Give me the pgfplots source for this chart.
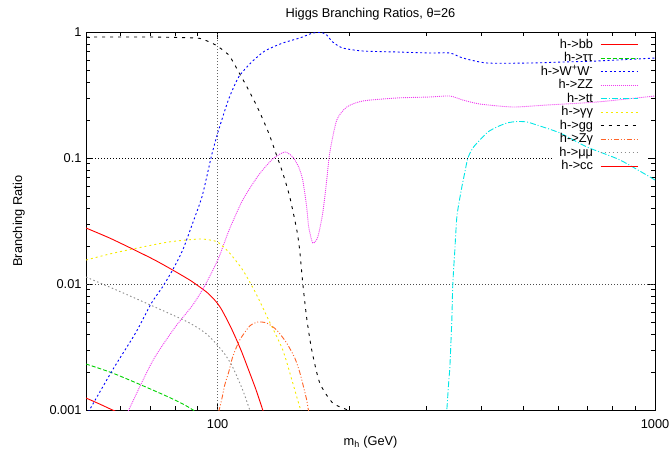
\documentclass[border=0pt]{standalone}
\usepackage{fontspec}
\setmainfont{Liberation Sans}
\usepackage{pgfplots}
\pgfplotsset{compat=1.18}
\definecolor{cbb}{RGB}{255,0,0}
\definecolor{ctau}{RGB}{0,210,0}
\definecolor{cww}{RGB}{0,0,255}
\definecolor{czz}{RGB}{240,60,240}
\definecolor{ctt}{RGB}{0,230,230}
\definecolor{cgam}{RGB}{245,235,0}
\definecolor{cgg}{RGB}{0,0,0}
\definecolor{czg}{RGB}{255,100,40}
\definecolor{cmu}{RGB}{140,140,140}
\begin{document}
\fontsize{12.8}{15}\selectfont
\begin{tikzpicture}
\useasboundingbox (-86pt,-48pt) rectangle (585pt,410pt);
\begin{axis}[
  scale only axis, width=569pt, height=378pt,
  xmode=log, ymode=log,
  xmin=50, xmax=1000, ymin=0.001, ymax=1,
  xtick={100,1000}, xticklabels={100,1000},
  ytick={0.001,0.01,0.1,1}, yticklabels={0.001,0.01,0.1,1},
  minor xtick={60,70,80,90,200,300,400,500,600,700,800,900},
  minor ytick={0.002,0.003,0.004,0.005,0.006,0.007,0.008,0.009,0.02,0.03,0.04,0.05,0.06,0.07,0.08,0.09,0.2,0.3,0.4,0.5,0.6,0.7,0.8,0.9},
  /pgf/number format/assume math mode=true,
  tick align=inside, tick pos=both,
  major tick length=7pt, minor tick length=4pt,
  tick style={black, line width=0.6pt},
  axis line style={black, line width=0.8pt},
  xticklabel style={yshift=-5pt},
  every axis title/.style={at={(0.5,1)},anchor=base,yshift=15pt},
  every axis x label/.style={at={(0.5,0)},anchor=base,yshift=-35pt},
  every axis y label/.style={at={(0,0.5)},xshift=-64pt,rotate=90,anchor=base},
  title={Higgs Branching Ratios, θ=26},
  xlabel={m\textsubscript{h} (GeV)},
  ylabel={Branching Ratio},
  legend style={at={(0.970,1)}, anchor=north east, yshift=-6pt, draw=none, fill=none, inner sep=0pt, outer sep=0pt, row sep=0.5pt, column sep=6pt, nodes={inner sep=1pt, text height=9pt, text depth=2pt}},
  legend cell align=right,
  legend plot pos=right,
  legend image code/.code={\draw[#1] (0pt,0pt) -- (37pt,0pt);},
  every axis plot/.append style={line width=0.9pt, smooth, tension=0.4},
]
% grid
\draw[black!60, dash pattern=on 1pt off 2pt, line width=0.7pt] (axis cs:100,0.001) -- (axis cs:100,1);
\draw[black, dash pattern=on 1pt off 2pt, line width=0.7pt] (axis cs:50,0.1) -- (axis cs:580,0.1);
\draw[black!70, dash pattern=on 1pt off 2pt, line width=0.7pt] (axis cs:50,0.01) -- (axis cs:1000,0.01);

\addplot[cbb, solid] coordinates {
(50,0.02783)(56.6,0.02318)(63.9,0.01896)(71.8,0.0155)(78.9,0.01292)(86.3,0.01076)
(91.0,0.00947)(94.9,0.00848)(98.9,0.00733)(101.6,0.00645)(104.3,0.00547)(107.1,0.00456)
(110.0,0.00373)(113.5,0.00289)(117.7,0.002077)(122.2,0.001468)(126.8,0.001)(128.7,0.000848)};
\addlegendentry{h->bb}

\addplot[ctau, dash pattern=on 4pt off 2pt] coordinates {
(50,0.002318)(57.5,0.001966)(67.7,0.00155)(77.2,0.001268)(84.1,0.001096)(88.6,0.000982)};
\addlegendentry{h->ττ}

\addplot[cww, dash pattern=on 2pt off 2.5pt] coordinates {
(50,0.000896)(57.5,0.002077)(64.9,0.004084)(70.6,0.00707)(74.8,0.00947)(78.9,0.01292)
(83.2,0.01861)(87.7,0.0305)(91.9,0.04815)(94.4,0.0707)(96.9,0.1056)(100.5,0.1668)
(106.0,0.2939)(111.7,0.4394)(119.0,0.5675)
(128.1,0.7066)(140.9,0.8178)(154.0,0.8962)(165.0,0.9819)(171.2,0.991)(176.6,0.964)
(183.3,0.833)(193.2,0.7464)(214.7,0.7066)(256.8,0.694)(305.6,0.6813)(339.6,0.6813)
(363.6,0.6217)(412.6,0.5675)(517.6,0.5675)(615.9,0.578)(736.7,0.5886)(1000,0.6217)};
\addlegendentry{h->W\textsuperscript{+}W\textsuperscript{-}}

\addplot[czz, dash pattern=on 1pt off 1pt] coordinates {
(59.7,0.000707)(62.6,0.001)(71.0,0.002448)(79.7,0.004474)(87.7,0.00681)(93.9,0.01)
(100.5,0.01608)(106.0,0.02634)(114.1,0.04642)(124.1,0.0733)(133.6,0.0982)(142.4,0.1116)(148.5,0.1018)
(153.2,0.0848)(156.5,0.0669)(159.8,0.0408)(161.5,0.02834)(165.0,0.02115)(169.4,0.0236)
(173.9,0.0366)(177.6,0.0669)(180.4,0.1096)(187.2,0.2002)(197.4,0.254)(214.7,0.2835)
(256.8,0.2995)(305.6,0.305)(339.6,0.3105)(363.6,0.2886)(397.7,0.2683)(473.2,0.254)
(566.1,0.2634)(736.7,0.2783)(1000,0.3105)};
\addlegendentry{h->ZZ}

\addplot[ctt, dash pattern=on 6pt off 2pt on 1pt off 2pt] coordinates {
(332.4,0.000833)(334.2,0.001)(337.8,0.00173)(339.6,0.002195)(343.1,0.00518)(344.9,0.01)
(348.6,0.01861)(352.3,0.0340)(357.9,0.04815)(361.7,0.0589)(367.5,0.0774)(373.4,0.1)
(383.3,0.1201)(397.7,0.139)(414.7,0.1608)(434.8,0.1762)(458.4,0.1896)(483.2,0.1949)
(509.4,0.1931)(537.0,0.1827)(606.3,0.158)(698.7,0.1223)(831.8,0.0964)(1000,0.0669)};
\addlegendentry{h->tt}

\addplot[cgam, dash pattern=on 2pt off 3pt] coordinates {
(50,0.0155)(56.6,0.0173)(63.9,0.01896)(77.2,0.02154)(90.5,0.02276)(95.9,0.02235)
(100,0.02154)(106.0,0.01795)(114.1,0.01292)(122.2,0.00848)(130.8,0.00518)(140.9,0.002995)
(148.5,0.001638)(151.7,0.001268)(154.8,0.001)(156.5,0.00088)};
\addlegendentry{h->γγ}

\addplot[cgg, dash pattern=on 3pt off 5pt] coordinates {
(50,0.9127)(69.9,0.9127)(89.1,0.8962)(93.4,0.864)(98.9,0.7885)(106.0,0.6568)(111.7,0.4815)
(117.7,0.3465)(124.1,0.2404)(130.8,0.158)(135.8,0.1096)(140.9,0.0760)(146.2,0.0490)
(151.7,0.0268)(154.0,0.01861)(156.5,0.0102)(159.8,0.00537)(164.1,0.002995)(171.2,0.001638)
(183.3,0.001137)(198.4,0.001)(205.8,0.00093)};
\addlegendentry{h->gg}

\addplot[czg, dash pattern=on 5pt off 2pt on 1pt off 2pt on 1pt off 2pt] coordinates {
(100.5,0.000964)(102.1,0.0012)(103.8,0.00158)(106.0,0.002002)(108.2,0.002634)(112.3,0.00359)
(118.4,0.004642)(123.5,0.004994)(129.5,0.0049)(136.5,0.00431)(143.8,0.0034)(150.1,0.002586)
(154.0,0.002002)(157.4,0.001495)(159.8,0.0012)(161.5,0.000964)};
\addlegendentry{h->Zγ}

\addplot[cmu, dash pattern=on 1.5pt off 2.5pt] coordinates {
(50,0.01136)(59.4,0.0088)(71.0,0.00669)(84.5,0.00509)(91.0,0.00439)(94.9,0.003937)
(98.9,0.0034)(103.8,0.00278)(108.2,0.002195)(114.1,0.00144)(118.4,0.001)(120.3,0.000833)};
\addlegendentry{h->μμ}

\addplot[cbb, solid] coordinates {
(50,0.001245)(53.7,0.001116)(57.5,0.001)(59.7,0.000947)};
\addlegendentry{h->cc}
\end{axis}
\end{tikzpicture}
\end{document}
